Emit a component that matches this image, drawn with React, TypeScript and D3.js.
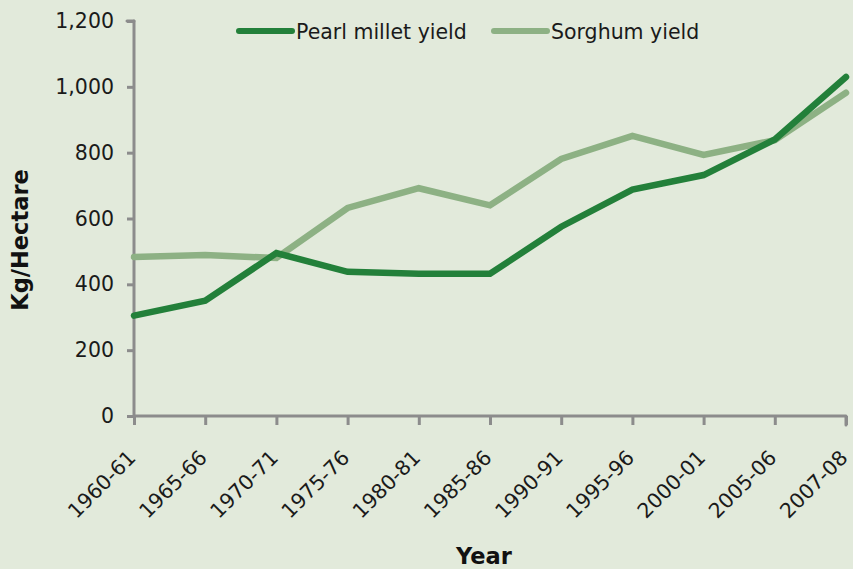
import React, { useEffect, useRef } from 'react';
import * as d3 from 'd3';

// Yield data (kg/hectare)
const years = ['1960-61', '1965-66', '1970-71', '1975-76', '1980-81', '1985-86', '1990-91', '1995-96', '2000-01', '2005-06', '2007-08'];
const pearlMillet = [305, 350, 495, 438, 432, 432, 575, 688, 732, 840, 1030];
const sorghum = [483, 489, 480, 632, 692, 640, 781, 851, 793, 838, 982];
const yTicks = [0, 200, 400, 600, 800, 1000, 1200];

const seriesNames = ['Pearl millet yield', 'Sorghum yield'];
const seriesColors = ['#23803a', '#8db184'];

const App = () => {
  const svgRef = useRef<SVGSVGElement>(null);

  useEffect(() => {
    const width = 853;
    const height = 569;
    const margin = { top: 21, right: 7, bottom: 153, left: 134 };

    const svg = d3.select(svgRef.current);
    svg.selectAll('*').remove();

    svg.append('rect').attr('width', width).attr('height', height).attr('fill', '#e2eadb');

    const x = d3.scalePoint().domain(years).range([margin.left, width - margin.right]);
    const y = d3.scaleLinear().domain([0, 1200]).range([height - margin.bottom, margin.top]);

    const axisColor = '#8c8c8c';
    const font = "'DejaVu Sans', Verdana, sans-serif";

    // y axis
    const yAxis = svg
      .append('g')
      .attr('transform', `translate(${margin.left},0)`)
      .call(d3.axisLeft(y).tickValues(yTicks).tickFormat(d3.format(',')).tickSize(7).tickPadding(13));
    yAxis.select('.domain').remove();
    yAxis.selectAll('line').attr('stroke', axisColor).attr('stroke-width', 3);
    yAxis.selectAll('text').attr('font-family', font).attr('font-size', 20.5).attr('fill', '#1a1a1a');

    // x axis
    const xAxis = svg
      .append('g')
      .attr('transform', `translate(0,${y(0)})`)
      .call(d3.axisBottom(x).tickSize(9).tickFormat(() => ''));
    xAxis.select('.domain').remove();
    xAxis.selectAll('line').attr('stroke', axisColor).attr('stroke-width', 3);

    // axis lines with rounded ends
    svg
      .append('path')
      .attr('d', `M${margin.left},${y(1200)}V${y(0)}H${width - margin.right}V${y(0) + 9}`)
      .attr('fill', 'none')
      .attr('stroke', axisColor)
      .attr('stroke-width', 3)
      .attr('stroke-linecap', 'round')
      .attr('stroke-linejoin', 'round');
    svg
      .append('line')
      .attr('x1', margin.left - 7)
      .attr('x2', margin.left)
      .attr('y1', y(1200))
      .attr('y2', y(1200))
      .attr('stroke', axisColor)
      .attr('stroke-width', 3)
      .attr('stroke-linecap', 'round');

    // rotated x labels
    svg
      .append('g')
      .selectAll('text')
      .data(years)
      .enter()
      .append('text')
      .attr('transform', (d) => `translate(${(x(d) as number) + 3},${y(0) + 43}) rotate(-45)`)
      .attr('text-anchor', 'end')
      .attr('font-family', font)
      .attr('font-size', 20.5)
      .attr('fill', '#1a1a1a')
      .text((d) => d);

    // lines
    const line = d3
      .line<number>()
      .x((d, i) => x(years[i]) as number)
      .y((d) => y(d));

    [sorghum, pearlMillet].forEach((s, k) => {
      svg
        .append('path')
        .datum(s)
        .attr('d', line)
        .attr('fill', 'none')
        .attr('stroke', seriesColors[1 - k])
        .attr('stroke-width', 6.5)
        .attr('stroke-linecap', 'round')
        .attr('stroke-linejoin', 'miter');
    });

    // legend
    const legend = svg
      .selectAll('.legend')
      .data(seriesNames)
      .enter()
      .append('g')
      .attr('class', 'legend')
      .attr('transform', (d, i) => `translate(${239 + i * 255},31)`);

    legend
      .append('line')
      .attr('x1', 0)
      .attr('x2', 53)
      .attr('stroke', (d, i) => seriesColors[i])
      .attr('stroke-width', 6)
      .attr('stroke-linecap', 'round');

    legend
      .append('text')
      .attr('x', 57)
      .attr('y', 8)
      .attr('font-family', font)
      .attr('font-size', 20.5)
      .attr('fill', '#1a1a1a')
      .text((d) => d);

    // axis titles
    svg
      .append('text')
      .attr('transform', `translate(28,240) rotate(-90)`)
      .attr('text-anchor', 'middle')
      .attr('font-family', font)
      .attr('font-weight', 'bold')
      .attr('font-size', 22.5)
      .attr('fill', '#111')
      .text('Kg/Hectare');

    svg
      .append('text')
      .attr('x', 484)
      .attr('y', 564)
      .attr('text-anchor', 'middle')
      .attr('font-family', font)
      .attr('font-weight', 'bold')
      .attr('font-size', 22.5)
      .attr('fill', '#111')
      .text('Year');
  }, []);

  return <svg ref={svgRef} width={853} height={569} style={{ position: 'absolute', left: 0, top: 0 }}></svg>;
};

export default App;
